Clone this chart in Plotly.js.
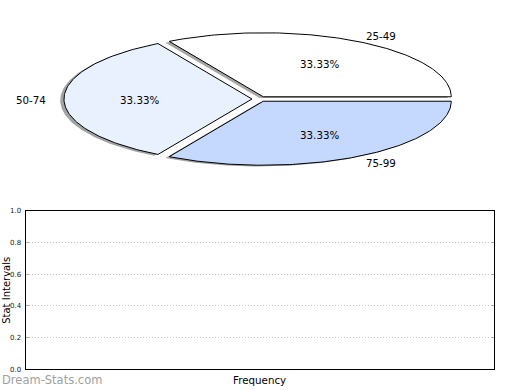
<!DOCTYPE html>
<html>
<head>
<meta charset="utf-8">
<script src="https://cdn.plot.ly/plotly-3.0.1.min.js"></script>
<style>html,body{margin:0;padding:0;background:#fff;}#chart{width:520px;height:390px;}</style>
</head>
<body>
<div id="chart"></div>
<script>
// ---- data ----
const sliceLabels = ['25-49', '50-74', '75-99'];
const sliceValues = [1, 1, 1];
const sliceColors = ['#ffffff', '#eaf1fe', '#c5d9fe'];
const yTickVals = [0.0, 0.2, 0.4, 0.6, 0.8, 1.0];
const yTickText = ['0.0', '0.2', '0.4', '0.6', '0.8', '1.0'];

// ---- pie built from values (matplotlib-style wedges on stretched axes) ----
const explode = 0.04;
const shadowOff = [-0.02, -0.02];
const total = sliceValues.reduce((a, b) => a + b, 0);
const FONT = 'DejaVu Sans, sans-serif';

function shade(hex) {
  const r = parseInt(hex.slice(1, 3), 16), g = parseInt(hex.slice(3, 5), 16), b = parseInt(hex.slice(5, 7), 16);
  return 'rgba(' + Math.round(r * 0.3) + ',' + Math.round(g * 0.3) + ',' + Math.round(b * 0.3) + ',0.5)';
}

const wedges = [], shadows = [], pieAnns = [];
let cum = 0;
sliceValues.forEach((v, i) => {
  const t1 = 2 * Math.PI * cum / total;
  cum += v;
  const t2 = 2 * Math.PI * cum / total;
  const mid = (t1 + t2) / 2;
  const cx = explode * Math.cos(mid), cy = explode * Math.sin(mid);
  const xs = [cx], ys = [cy];
  const n = 120;
  for (let k = 0; k <= n; k++) {
    const t = t1 + (t2 - t1) * k / n;
    xs.push(cx + Math.cos(t));
    ys.push(cy + Math.sin(t));
  }
  xs.push(cx); ys.push(cy);
  shadows.push({
    x: xs.map(x => x + shadowOff[0]), y: ys.map(y => y + shadowOff[1]),
    xaxis: 'x2', yaxis: 'y2', mode: 'lines', fill: 'toself',
    fillcolor: shade(sliceColors[i]), line: {width: 0, color: 'rgba(0,0,0,0)'},
    hoverinfo: 'skip', showlegend: false
  });
  wedges.push({
    x: xs, y: ys, xaxis: 'x2', yaxis: 'y2', mode: 'lines', fill: 'toself',
    fillcolor: sliceColors[i], line: {width: 1, color: '#000'},
    hoverinfo: 'skip', showlegend: false
  });
  const lx = cx + 1.1 * Math.cos(mid), ly = cy + 1.1 * Math.sin(mid);
  pieAnns.push({
    text: sliceLabels[i], xref: 'x2', yref: 'y2', x: lx, y: ly,
    xanchor: lx > 0 ? 'left' : 'right', yanchor: 'middle',
    xshift: lx > 0 ? -2.5 : 2.5, yshift: -0.6,
    showarrow: false, font: {family: FONT, size: 10.3, color: '#000'}
  });
  pieAnns.push({
    text: (100 * v / total).toFixed(2) + '%', xref: 'x2', yref: 'y2',
    x: cx + 0.6 * Math.cos(mid), y: cy + 0.6 * Math.sin(mid),
    xanchor: 'center', yanchor: 'middle', yshift: -0.6,
    showarrow: false, font: {family: FONT, size: 10.3, color: '#000'}
  });
});

const emptyTrace = {x: [], y: [], xaxis: 'x', yaxis: 'y', mode: 'markers', showlegend: false, hoverinfo: 'skip'};

// geometry of the pie region (pixels)
const W = 520, H = 390, pcx = 259.5, pcy = 99, rx = 188, ry = 64, pieH = 190;

const layout = {
  width: W, height: H, autosize: false,
  margin: {l: 0, r: 0, t: 0, b: 0, pad: 0},
  paper_bgcolor: '#fff', plot_bgcolor: 'rgba(0,0,0,0)',
  showlegend: false,
  xaxis: {
    domain: [25.5 / W, 493.5 / W], anchor: 'y', range: [0, 1],
    showline: true, linecolor: '#000', linewidth: 1, mirror: true,
    showgrid: false, zeroline: false, ticks: '', showticklabels: false, fixedrange: true
  },
  yaxis: {
    domain: [(H - 369.3) / H, (H - 210.7) / H], anchor: 'x', range: [0, 1],
    showline: true, linecolor: '#000', linewidth: 1, mirror: 'ticks',
    ticks: 'inside', ticklen: 3, tickwidth: 1, tickcolor: '#aaa',
    tickvals: yTickVals, ticktext: yTickText,
    tickfont: {family: FONT, size: 7, color: '#222'}, ticklabelstandoff: 2,
    showgrid: true, gridcolor: '#c4c4c4', gridwidth: 1, griddash: '1px,2px',
    zeroline: false, fixedrange: true
  },
  xaxis2: {
    domain: [0, 1], anchor: 'y2', range: [(0 - pcx) / rx, (W - pcx) / rx],
    visible: false, fixedrange: true
  },
  yaxis2: {
    domain: [(H - pieH) / H, 1], anchor: 'x2', range: [(pcy - pieH) / ry, pcy / ry],
    visible: false, fixedrange: true
  },
  annotations: pieAnns.concat([
    {text: 'Frequency', xref: 'paper', yref: 'paper', x: 259.5 / W, y: 1 - 380 / H,
     xanchor: 'center', yanchor: 'middle', showarrow: false,
     font: {family: FONT, size: 10.3, color: '#000'}},
    {text: 'Stat Intervals', xref: 'paper', yref: 'paper', x: 5.8 / W, y: 1 - 290 / H,
     xanchor: 'center', yanchor: 'middle', showarrow: false, textangle: -90,
     font: {family: FONT, size: 10, color: '#000'}},
    {text: 'Dream-Stats.com', xref: 'paper', yref: 'paper', x: 0, y: 1 - 380 / H,
     xanchor: 'left', yanchor: 'middle', showarrow: false,
     font: {family: FONT, size: 11.5, color: '#a0a0a0'}}
  ])
};

Plotly.newPlot('chart', [emptyTrace].concat(shadows, wedges), layout,
  {staticPlot: true, displayModeBar: false});
</script>
</body>
</html>
